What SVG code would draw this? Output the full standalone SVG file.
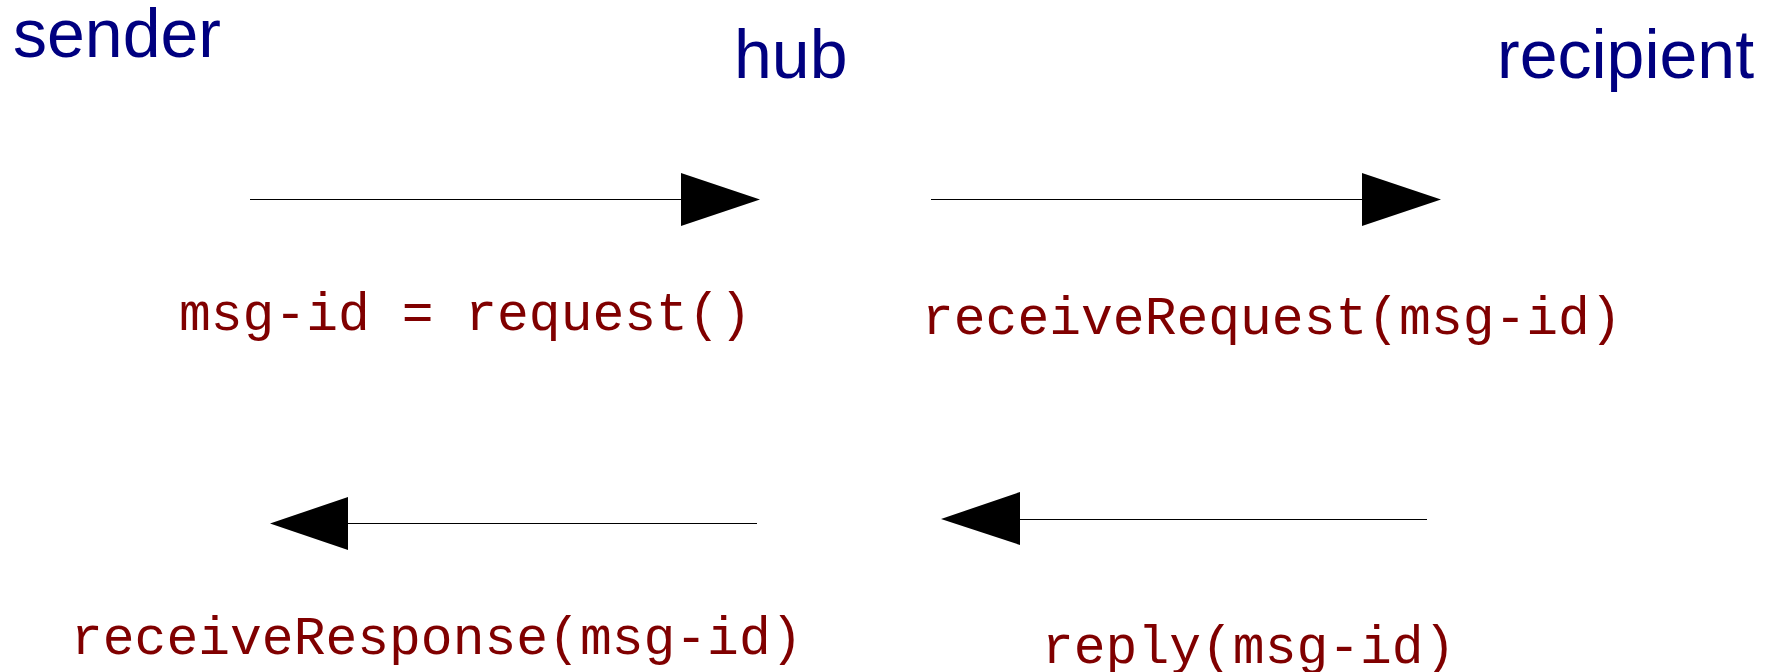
<svg xmlns="http://www.w3.org/2000/svg" width="1784" height="672" viewBox="0 0 1784 672">
<style>
.actor{font-family:"Liberation Sans",Arial,sans-serif;font-size:68px;fill:#000080}
.msg{font-family:"Liberation Mono","Courier New",monospace;font-size:53px;fill:#800000}
.conn line{stroke:#000;stroke-width:1.2}
.conn polygon{fill:#000}
</style>
<rect width="1784" height="672" fill="#fff"/>
<g id="sender"><text class="actor" x="13" y="57">sender</text></g>
<g id="hub"><text class="actor" x="734" y="78">hub</text></g>
<g id="recipient"><text class="actor" x="1497" y="78">recipient</text></g>
<g id="label-request"><text class="msg" x="179" y="330">msg-id = request()</text></g>
<g id="label-receiveRequest"><text class="msg" x="922" y="334">receiveRequest(msg-id)</text></g>
<g id="label-receiveResponse"><text class="msg" x="71" y="654">receiveResponse(msg-id)</text></g>
<g id="label-reply"><text class="msg" x="1042" y="663">reply(msg-id)</text></g>
<g id="connectors" class="conn">
<line x1="250" y1="199.5" x2="682" y2="199.5"/>
<polygon points="681,173 760,199.5 681,226"/>
<line x1="931" y1="199.5" x2="1363" y2="199.5"/>
<polygon points="1362,173 1441,199.5 1362,226"/>
<line x1="757" y1="523.5" x2="347" y2="523.5"/>
<polygon points="348,497 270,523.5 348,550"/>
<line x1="1427" y1="519.5" x2="1018" y2="519.5"/>
<polygon points="1020,492 941,519 1020,545"/>
</g>
</svg>
